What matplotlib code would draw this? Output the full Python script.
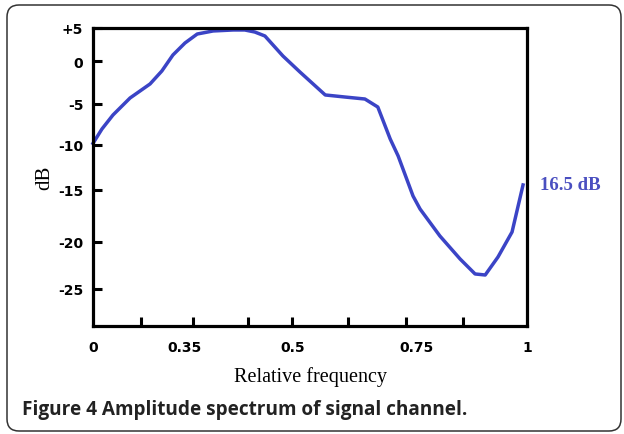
import numpy as np
import matplotlib.pyplot as plt
from matplotlib.patches import FancyBboxPatch

# amplitude curve
freq = [0, 0.034, 0.076, 0.141, 0.217, 0.262, 0.304, 0.35, 0.367, 0.389, 0.417,
        0.433, 0.447, 0.461, 0.486, 0.514, 0.565, 0.605, 0.645, 0.671, 0.696,
        0.712, 0.742, 0.757, 0.802, 0.848, 0.882, 0.905, 0.934, 0.966, 0.991]
db = [-9.8, -8.05, -6.34, -4.3, -2.67, -1.16, 0.91, 2.73, 4.09, 4.55, 4.7,
      4.7, 4.39, 3.79, 0.76, -1.28, -3.95, -4.19, -4.42, -5.37, -9.27,
      -11.22, -15.58, -16.83, -19.42, -21.81, -23.4, -23.51, -21.6, -19.04, -14.44]

x_labels = ['0', '0.35', '0.5', '0.75', '1']
x_label_vals = [0, 0.35, 0.5, 0.75, 1.0]
x_minor = [0.183, 0.361, 0.4375, 0.4986, 0.611, 0.728, 0.855]
y_vals = [5, 0, -5, -10, -15, -20, -25]
y_labels = ['+5', '0', '-5', '-10', '-15', '-20', '-25']

# the drawing's axes are not evenly spaced, so map them piecewise
xs_v = [0, 0.35, 0.5, 0.75, 1.0]
xs_p = [0, 92, 200, 324, 434]
ys_v = [-28.9, -25, -20, -15, -10, -5, 0, 5]
ys_p = [0, 37, 84, 136, 181, 222, 265, 298]

def fx(v):
    return np.interp(v, xs_v, xs_p)

def ix(p):
    return np.interp(p, xs_p, xs_v)

def fy(v):
    return np.interp(v, ys_v, ys_p)

def iy(p):
    return np.interp(p, ys_p, ys_v)

fig = plt.figure(figsize=(6.24, 4.35), dpi=100)
ax = fig.add_axes([93 / 624, 1 - 327 / 435, 434 / 624, 298 / 435])
ax.set_xscale('function', functions=(fx, ix))
ax.set_yscale('function', functions=(fy, iy))

ax.plot(freq, db, color='#3b44c6', lw=2.5, solid_joinstyle='round', clip_on=False)
ax.set_xlim(0, 1)
ax.set_ylim(-28.9, 5)

for s in ax.spines.values():
    s.set_linewidth(2.3)

ax.tick_params(axis='x', which='major', length=0, pad=10)
ax.tick_params(axis='x', which='minor', direction='in', length=6.5, width=2.2)
ax.tick_params(axis='y', which='major', direction='in', length=6.5, width=2.2, pad=7)

tickfont = dict(family='DejaVu Sans', weight='bold', size=10)
ax.set_xticks(x_label_vals)
ax.set_xticklabels(x_labels, **tickfont)
ax.set_xticks(x_minor, minor=True)
ax.set_yticks(y_vals)
ax.set_yticklabels(y_labels, **tickfont)

ax.set_xlabel('Relative frequency', family='Liberation Serif', fontsize=14.5, labelpad=9)
ax.set_ylabel('dB', family='Liberation Serif', fontsize=15, labelpad=3)

ax.text(1.03, db[-1], '16.5 dB', transform=ax.get_yaxis_transform(),
        color='#4a4fc0', family='Liberation Serif', weight='bold', fontsize=13.5,
        ha='left', va='center')

fig.text(22 / 624, 1 - 410 / 435, 'Figure 4 Amplitude spectrum of signal channel.',
         family='Open Sans', weight='bold', fontsize=13.7, color='#222222',
         ha='left', va='center')

box = FancyBboxPatch((7, 3), 614, 426, boxstyle='round,pad=0,rounding_size=12',
                     transform=None, fill=False, edgecolor='#333333', lw=1.1)
fig.patches.append(box)

fig.savefig('out.png', dpi=100)
